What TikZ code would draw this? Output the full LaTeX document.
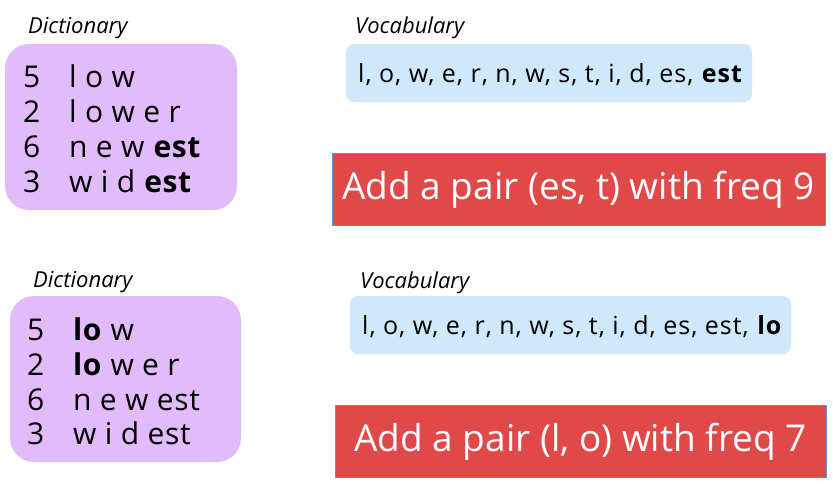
\documentclass[tikz,border=0pt]{standalone}
\usepackage{fontspec}
\setmainfont{Open Sans}
\definecolor{dictpurple}{RGB}{225,187,250}
\definecolor{vocblue}{RGB}{207,232,250}
\definecolor{pairred}{RGB}{224,73,74}
\definecolor{pairedge}{RGB}{110,140,200}
\tikzset{
  dictbox/.style={fill=dictpurple, rounded corners=24pt},
  vocbox/.style={fill=vocblue, rounded corners=8pt},
  pairbox/.style={fill=pairred, draw=pairedge, line width=0.8pt},
  caption/.style={anchor=base west, inner sep=0pt, font=\fontsize{22}{26}\selectfont\itshape},
  row/.style={anchor=base west, inner sep=0pt, font=\fontsize{30}{36}\selectfont\addfontfeatures{LetterSpace=2}},
  vocword/.style={anchor=base west, inner sep=0pt, font=\fontsize{25}{30}\selectfont\addfontfeatures{LetterSpace=4}},
  pairtext/.style={inner sep=0pt, text=white, font=\fontsize{37}{42}\selectfont}
}
\begin{document}
\begin{tikzpicture}[x=1pt,y=-1pt]
	\useasboundingbox (0,0) rectangle (833,491);

	% first merge
	\node[caption] (dicta) at (28,33) {Dictionary};
	\fill[dictbox] (5,44) rectangle (237,210);
	\node[row] (na1) at (23,87) {5}; \node[row] (wa1) at (69,87) {l o w};
	\node[row] (na2) at (23,122) {2}; \node[row] (wa2) at (69,122) {l o w e r};
	\node[row] (na3) at (23,157) {6}; \node[row] (wa3) at (69,157) {n e w \textbf{est}};
	\node[row] (na4) at (23,192) {3}; \node[row] (wa4) at (69,192) {w i d \textbf{est}};

	\node[caption] (voca) at (355,33) {Vocabulary};
	\fill[vocbox] (346,44) rectangle (752,102);
	\node[vocword] (lista) at (358,82) {l, o, w, e, r, n, w, s, t, i, d, es, \textbf{est}};

	\draw[pairbox] (332,153) rectangle (825,225);
	\node[pairtext] (paira) at (578.5,190) {Add a pair (es, t) with freq 9};

	% second merge
	\node[caption] (dictb) at (33,287) {Dictionary};
	\fill[dictbox] (10,296) rectangle (241,462);
	\node[row] (nb1) at (27,340) {5}; \node[row] (wb1) at (73,340) {\textbf{lo} w};
	\node[row] (nb2) at (27,375) {2}; \node[row] (wb2) at (73,375) {\textbf{lo} w e r};
	\node[row] (nb3) at (27,410) {6}; \node[row] (wb3) at (73,410) {n e w est};
	\node[row] (nb4) at (27,444) {3}; \node[row] (wb4) at (73,444) {w i d est};

	\node[caption] (vocb) at (360,288) {Vocabulary};
	\fill[vocbox] (350,296) rectangle (791,354);
	\node[vocword] (listb) at (362,334) {l, o, w, e, r, n, w, s, t, i, d, es, est, \textbf{lo}};

	\draw[pairbox] (335,405) rectangle (826,477);
	\node[pairtext] (pairb) at (580.5,442) {Add a pair (l, o) with freq 7};
\end{tikzpicture}
\end{document}
